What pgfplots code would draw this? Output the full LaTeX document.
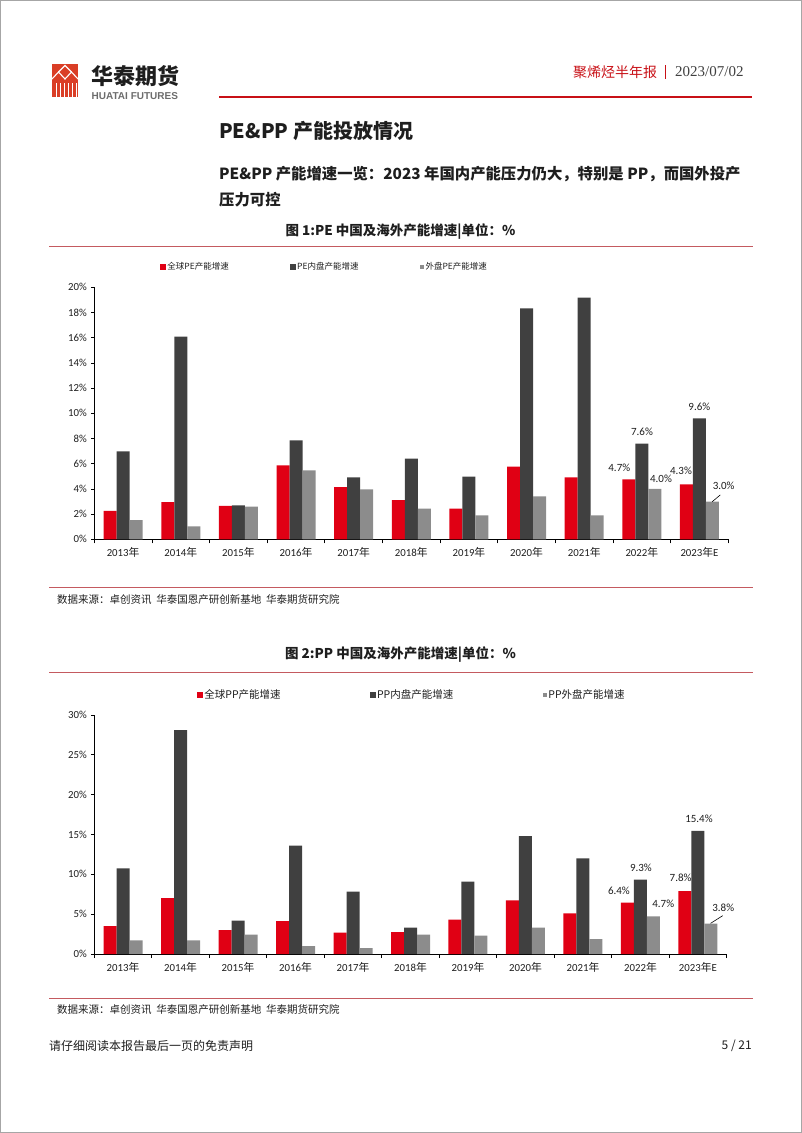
\documentclass[border=0pt]{standalone}
\usepackage{pgfplots}
\pgfplotsset{compat=1.18}
\usepackage{pgfplotstable}
\usepackage{fontspec}
\setmainfont{Carlito}
\newfontfamily\cjk{Noto Sans CJK SC}
\newfontfamily\lsans{Liberation Sans}
\newfontfamily\lserif{Liberation Serif}
\definecolor{hred}{RGB}{224,0,20}
\definecolor{hdark}{RGB}{64,64,64}
\definecolor{hgray}{RGB}{140,140,140}
\definecolor{hline}{RGB}{200,16,22}
\definecolor{capline}{RGB}{196,90,96}
\definecolor{logored}{RGB}{218,62,38}
\definecolor{txt}{RGB}{30,30,30}
\newcommand\fs[1]{\fontsize{#1}{#1}\selectfont}
\newcommand\nian{{\cjk 年}}

\pgfplotstableread{
x red dark gray
0 2.25 6.98 1.53
1 2.96 16.08 1.03
2 2.65 2.70 2.59
3 5.87 7.86 5.48
4 4.15 4.92 3.97
5 3.10 6.40 2.43
6 2.43 4.97 1.90
7 5.77 18.33 3.41
8 4.92 19.18 1.90
9 4.75 7.60 4.00
10 4.35 9.60 3.00
}\pedata

\pgfplotstableread{
x red dark gray
0 3.51 10.75 1.72
1 7.03 28.10 1.72
2 3.01 4.18 2.43
3 4.14 13.60 1.00
4 2.68 7.82 0.75
5 2.76 3.31 2.43
6 4.31 9.08 2.30
7 6.74 14.80 3.31
8 5.10 12.00 1.88
9 6.45 9.35 4.73
10 7.90 15.45 3.80
}\ppdata

\tikzset{lab/.style={font=\fs{11}, text=txt, inner sep=0pt}}

\pgfplotsset{
  bigleg/.style={legend image code/.code={\fill[##1] (0pt,-3pt) rectangle (6pt,3pt);}},
  smallleg/.style={legend image code/.code={\fill[##1] (1pt,-2.3pt) rectangle (5.6pt,2.3pt);}},
  hbar/.style={
    scale only axis, ybar=0pt, bar width=13pt, clip=false,
    xmin=-0.5, xmax=10.5, ymin=0,
    axis x line*=bottom, axis y line*=left,
    axis line style={black, line width=0.8pt},
    xtick={0,...,10},
    xticklabels={2013\nian,2014\nian,2015\nian,2016\nian,2017\nian,2018\nian,2019\nian,2020\nian,2021\nian,2022\nian,2023\nian E},
    major x tick style={draw=none},
    minor xtick={-0.5,0.5,...,10.5},
    minor x tick style={black, line width=0.8pt},
    minor tick length=4pt,
    major tick length=3pt,
    tick align=outside,
    y tick style={black, line width=0.8pt},
    /pgf/number format/assume math mode=true,
    yticklabel={\pgfmathprintnumber{\tick}\%},
    tick label style={font=\fs{10.8}, text=txt},
    xticklabel style={yshift=-2pt},
    yticklabel style={xshift=-1pt},
    legend cell align=left,
  },
}

\begin{document}
\begin{tikzpicture}[x=1pt,y=1pt]
\path[use as bounding box] (0,0) rectangle (802,-1133);
\draw[gray!70, line width=1pt] (0.5,-0.5) rectangle (801.5,-1132.5);

% logo
\fill[logored] (52,-64) rectangle (78,-97);
\draw[white, line width=1.1pt] (52,-79) -- (58.5,-72) -- (65,-79) -- (71.5,-72) -- (78,-79);
\draw[white, line width=1.1pt] (58.5,-72) -- (65,-65.5) -- (71.5,-72);
\foreach \xx in {56,60,64,68,72,76} \draw[white, line width=1pt] (\xx,-83) -- (\xx,-97);
\node[anchor=west, inner sep=0pt, text=txt] at (91,-76) {\fs{22}\cjk\bfseries 华泰期货};
\node[anchor=west, inner sep=0pt, text=gray!85!black] at (91.5,-96) {\fs{10}\lsans\bfseries HUATAI FUTURES};

% header right
\node[anchor=west, inner sep=0pt, text=hline] at (573,-72) {\fs{14}\cjk 聚烯烃半年报};
\draw[hline, line width=0.8pt] (665,-65) -- (665,-79);
\node[anchor=west, inner sep=0pt, text=hdark] at (675,-72) {\fs{15}\lserif 2023/07/02};
\draw[hline, line width=2pt] (219,-97) -- (752,-97);

% titles
\node[anchor=west, inner sep=0pt, text=txt] at (219,-131) {\fs{20}\cjk\bfseries PE\&PP 产能投放情况};
\node[anchor=west, inner sep=0pt, text=txt] at (219,-174) {\fs{15.35}\cjk\bfseries PE\&PP 产能增速一览：2023 年国内产能压力仍大，特别是 PP，而国外投产};
\node[anchor=west, inner sep=0pt, text=txt] at (219,-200) {\fs{15.35}\cjk\bfseries 压力可控};

% figure 1 caption
\node[inner sep=0pt, text=txt] at (400.5,-232) {\fs{13.5}\cjk\bfseries 图 1:PE 中国及海外产能增速|单位：\%};
\draw[capline, line width=1pt] (49,-246) -- (753,-246);
\draw[capline, line width=1pt] (49,-587) -- (753,-587);
\node[anchor=west, inner sep=0pt, text=txt] at (57,-600) {\fs{10.5}\cjk 数据来源：卓创资讯\ \ 华泰国恩产研创新基地\ \ 华泰期货研究院};

% figure 2 caption
\node[inner sep=0pt, text=txt] at (400.5,-655) {\fs{13.5}\cjk\bfseries 图 2:PP 中国及海外产能增速|单位：\%};
\draw[capline, line width=1pt] (49,-672) -- (753,-672);
\draw[capline, line width=1pt] (49,-998) -- (753,-998);
\node[anchor=west, inner sep=0pt, text=txt] at (57,-1010) {\fs{10.5}\cjk 数据来源：卓创资讯\ \ 华泰国恩产研创新基地\ \ 华泰期货研究院};

% footer
\node[anchor=west, inner sep=0pt, text=txt] at (49,-1046) {\fs{12}\cjk 请仔细阅读本报告最后一页的免责声明};
\node[anchor=east, inner sep=0pt, text=txt] at (752,-1046) {\fs{12}\cjk 5\ /\ 21};

% chart 1
\begin{axis}[hbar, at={(94.3pt,-539.3pt)}, anchor=south west,
  width=634pt, height=252pt, ymax=20, ytick={0,2,...,20},
  legend style={at={(0.1036,1.0806)}, anchor=west, draw=none, fill=none,
    legend columns=3, font=\fs{8.5}\cjk, inner sep=0pt,
    nodes={inner sep=1.2pt, text=txt},
    /tikz/every even column/.append style={column sep=60pt}}]
\addplot[fill=hred, draw=none, bigleg] table[x=x, y=red] {\pedata};
\addlegendentry{全球PE产能增速}
\addplot[fill=hdark, draw=none, bigleg] table[x=x, y=dark] {\pedata};
\addlegendentry{PE内盘产能增速}
\addplot[fill=hgray, draw=none, smallleg] table[x=x, y=gray] {\pedata};
\addlegendentry{外盘PE产能增速}
\node[lab] at (axis cs:8.609,5.68) {4.7\%};
\node[lab] at (axis cs:9.003,8.52) {7.6\%};
\node[lab] at (axis cs:9.333,4.79) {4.0\%};
\node[lab] at (axis cs:9.998,10.52) {9.6\%};
\node[lab] at (axis cs:9.68,5.42) {4.3\%};
\node[lab] at (axis cs:10.42,4.25) {3.0\%};
\draw[black, line width=0.6pt] (axis cs:10.22,2.98) -- (axis cs:10.36,3.52);
\end{axis}

% chart 2
\begin{axis}[hbar, at={(94.3pt,-954pt)}, anchor=south west,
  width=632.4pt, height=239pt, ymax=30, ytick={0,5,...,30},
  legend style={at={(0.1624,1.0837)}, anchor=west, draw=none, fill=none,
    legend columns=3, font=\fs{10.5}\cjk, inner sep=0pt,
    nodes={inner sep=1.2pt, text=txt},
    /tikz/every even column/.append style={column sep=88pt}}]
\addplot[fill=hred, draw=none, bigleg] table[x=x, y=red] {\ppdata};
\addlegendentry{全球PP产能增速}
\addplot[fill=hdark, draw=none, bigleg] table[x=x, y=dark] {\ppdata};
\addlegendentry{PP内盘产能增速}
\addplot[fill=hgray, draw=none, smallleg] table[x=x, y=gray] {\ppdata};
\addlegendentry{PP外盘产能增速}
\node[lab] at (axis cs:8.625,7.91) {6.4\%};
\node[lab] at (axis cs:9.008,10.83) {9.3\%};
\node[lab] at (axis cs:9.396,6.31) {4.7\%};
\node[lab] at (axis cs:10.017,16.98) {15.4\%};
\node[lab] at (axis cs:9.698,9.58) {7.8\%};
\node[lab] at (axis cs:10.44,5.81) {3.8\%};
\draw[black, line width=0.6pt] (axis cs:10.22,3.85) -- (axis cs:10.43,4.81);
\end{axis}
\end{tikzpicture}
\end{document}
